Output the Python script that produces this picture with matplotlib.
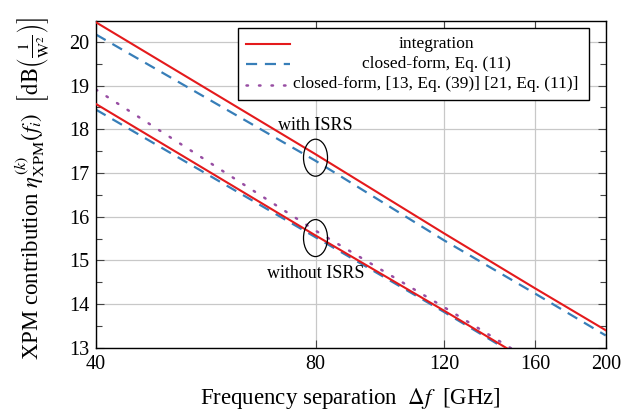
import matplotlib
matplotlib.use("Agg")
import matplotlib.pyplot as plt
from matplotlib.patches import Ellipse, Rectangle
from matplotlib.lines import Line2D
from matplotlib.ticker import FixedLocator, NullLocator, FixedFormatter, MultipleLocator

plt.rcParams['font.family'] = ['Liberation Serif', 'DejaVu Serif']
plt.rcParams['mathtext.fontset'] = 'stix'

# ---- data ----
freq = [40, 80, 120, 160, 200]                       # GHz
isrs_integration = [20.45, 17.43, 15.62, 14.36, 13.40]
isrs_closed_form = [20.17, 17.28, 15.46, 14.24, 13.28]
freq_no = [40, 80, 120, 160]
noisrs_integration = [18.58, 15.57, 13.85, 12.60]
noisrs_closed_form = [18.45, 15.53, 13.82, 12.57]
noisrs_prior_form = [18.91, 15.68, 13.93, 12.65]

xticks = [40, 80, 120, 160, 200]
yticks = [13, 14, 15, 16, 17, 18, 19, 20]

RED = '#E41A1C'
BLUE = '#377EB8'
PURPLE = '#984EA3'

fig = plt.figure(figsize=(6.38, 4.17), dpi=100)
ax = fig.add_axes([96/638, 1-347.7/417, (605.7-96)/638, (347.7-21)/417])

ax.set_xscale('log')
ax.set_xlim(40, 200)
ax.set_ylim(13, 20.48)

ax.plot(freq, isrs_integration, color=RED, lw=1.5, zorder=3)
ax.plot(freq, isrs_closed_form, color=BLUE, lw=1.6, dashes=(5, 3.5), zorder=2)
ax.plot(freq_no, noisrs_integration, color=RED, lw=1.5, zorder=3)
ax.plot(freq_no, noisrs_closed_form, color=BLUE, lw=1.6, dashes=(5, 3.5), zorder=2)
ax.plot(freq_no, noisrs_prior_form, color=PURPLE, lw=1.8, dashes=(0.6, 4.4),
        dash_capstyle='round', zorder=2)

ax.xaxis.set_major_locator(FixedLocator(xticks))
ax.xaxis.set_major_formatter(FixedFormatter([str(t) for t in xticks]))
ax.xaxis.set_minor_locator(NullLocator())
ax.yaxis.set_major_locator(FixedLocator(yticks))
ax.yaxis.set_minor_locator(MultipleLocator(0.5))

ax.grid(True, which='major', color='#c8c8c8', lw=0.9, zorder=0)
ax.set_axisbelow(True)
ax.tick_params(which='both', direction='in', top=True, right=True,
               labelsize=14.5, color='#444444')
ax.tick_params(which='major', length=6, width=0.8, pad=5)
ax.tick_params(which='minor', length=4.5, width=0.8)
for s in ax.spines.values():
    s.set_linewidth(1.0)

ax.set_xlabel(r'Frequency separation  $\Delta f$  [GHz]', fontsize=16.5)
ax.xaxis.set_label_coords(0.5, (347.7 - 386) / 326.7)
ax.set_ylabel(r'XPM contribution $\eta_{\mathrm{XPM}}^{(k)}(f_i)$  '
              r'$\left[\mathrm{dB}\left(\frac{1}{\mathrm{W}^2}\right)\right]$',
              fontsize=16.5)
ax.yaxis.set_label_coords((52 - 96) / 509.7, (347.7 - 188) / 326.7)

# ---- annotations ----
fig.canvas.draw()
def to_axes(x, y):
    return ax.transAxes.inverted().transform(ax.transData.transform((x, y)))

ew, eh = 24/509.7, 37/326.7
c1 = to_axes(80, 17.35)
c2 = to_axes(80, 15.51)
ax.add_patch(Ellipse(c1, ew, eh, transform=ax.transAxes, fill=False, ec='black', lw=0.9, zorder=5))
ax.add_patch(Ellipse(c2, ew, eh, transform=ax.transAxes, fill=False, ec='black', lw=0.9, zorder=5))
t1 = to_axes(80, 18.08)
t2 = to_axes(80, 14.7)
ax.text(t1[0], t1[1], 'with ISRS', transform=ax.transAxes, ha='center', va='center', fontsize=13, zorder=6)
ax.text(t2[0], t2[1], 'without ISRS', transform=ax.transAxes, ha='center', va='center', fontsize=13, zorder=6)

# ---- legend (drawn manually, centred text like the reference) ----
W, H = 509.7, 326.7
def ax_xy(px, py):
    return ((px - 96) / W, (347.7 - py) / H)
x0, y0 = ax_xy(238, 100)
x1, y1 = ax_xy(589, 28)
ax.add_patch(Rectangle((x0, y0), x1 - x0, y1 - y0, transform=ax.transAxes,
                       facecolor='white', edgecolor='black', lw=1.0, zorder=7))
rows = [
    (44, dict(color=RED, lw=1.5), 'integration'),
    (64, dict(color=BLUE, lw=1.6, dashes=(5, 3.5)), 'closed-form, Eq. (11)'),
    (84.5, dict(color=PURPLE, lw=1.8, dashes=(0.6, 4.4), dash_capstyle='round'),
     'closed-form, [13, Eq. (39)] [21, Eq. (11)]'),
]
for py, style, label in rows:
    la, yy = ax_xy(246, py)
    lb, _ = ax_xy(290, py)
    ax.add_line(Line2D([la, lb], [yy, yy], transform=ax.transAxes, zorder=8, **style))
    tx, _ = ax_xy(436, py)
    ax.text(tx, yy, label, transform=ax.transAxes, ha='center', va='center',
            fontsize=12.5, zorder=8)

fig.savefig('out.png', dpi=100)
